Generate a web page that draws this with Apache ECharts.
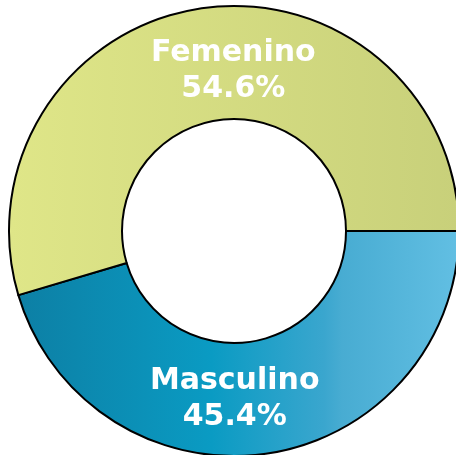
<!DOCTYPE html>
<html>
<head>
<meta charset="utf-8">
<script src="https://cdn.jsdelivr.net/npm/echarts@6/dist/echarts.min.js"></script>
<style>
    html, body { margin: 0; padding: 0; background: #fff; }
    #chart { width: 456px; height: 455px; }
</style>
</head>
<body>
<div id="chart"></div>
<script>
// categories and values (percent)
const categories = ['Masculino', 'Femenino']
const values = [45.4, 54.6]

const cx = 234
const cy = 231
const rOuter = 225

// horizontal gradients across the whole ring
const fills = [
    {
        type: 'linear', global: true,
        x: cx - rOuter, y: 0, x2: cx + rOuter, y2: 0,
        colorStops: [
            { offset: 0, color: '#0d7ea3' },
            { offset: 0.45, color: '#0a9bc3' },
            { offset: 0.7, color: '#3aa6ce' },
            { offset: 0.74, color: '#48acd2' },
            { offset: 1, color: '#62bfe3' }
        ]
    },
    {
        type: 'linear', global: true,
        x: cx - rOuter, y: 0, x2: cx + rOuter, y2: 0,
        colorStops: [
            { offset: 0, color: '#dfe688' },
            { offset: 1, color: '#c8d07a' }
        ]
    }
]
// move labels to the top / bottom centre of the ring
const labelOffsets = [[-24, -2], [24, 10]]

const chart = echarts.init(document.getElementById('chart'))
chart.setOption({
    animation: false,
    series: [{
        type: 'pie',
        center: [cx, cy],
        radius: [112, rOuter],
        startAngle: 0,
        clockwise: true,
        avoidLabelOverlap: false,
        itemStyle: {
            borderColor: '#000',
            borderWidth: 2
        },
        label: {
            show: true,
            position: 'inside',
            color: '#fff',
            fontFamily: 'DejaVu Sans',
            fontWeight: 'bold',
            fontSize: 30,
            lineHeight: 36,
            formatter: p => p.name + '\n' + p.value.toFixed(1) + '%'
        },
        labelLine: { show: false },
        emphasis: { disabled: true },
        data: categories.map((name, i) => ({
            name,
            value: values[i],
            itemStyle: { color: fills[i] },
            label: { offset: labelOffsets[i] }
        }))
    }]
})
</script>
</body>
</html>
